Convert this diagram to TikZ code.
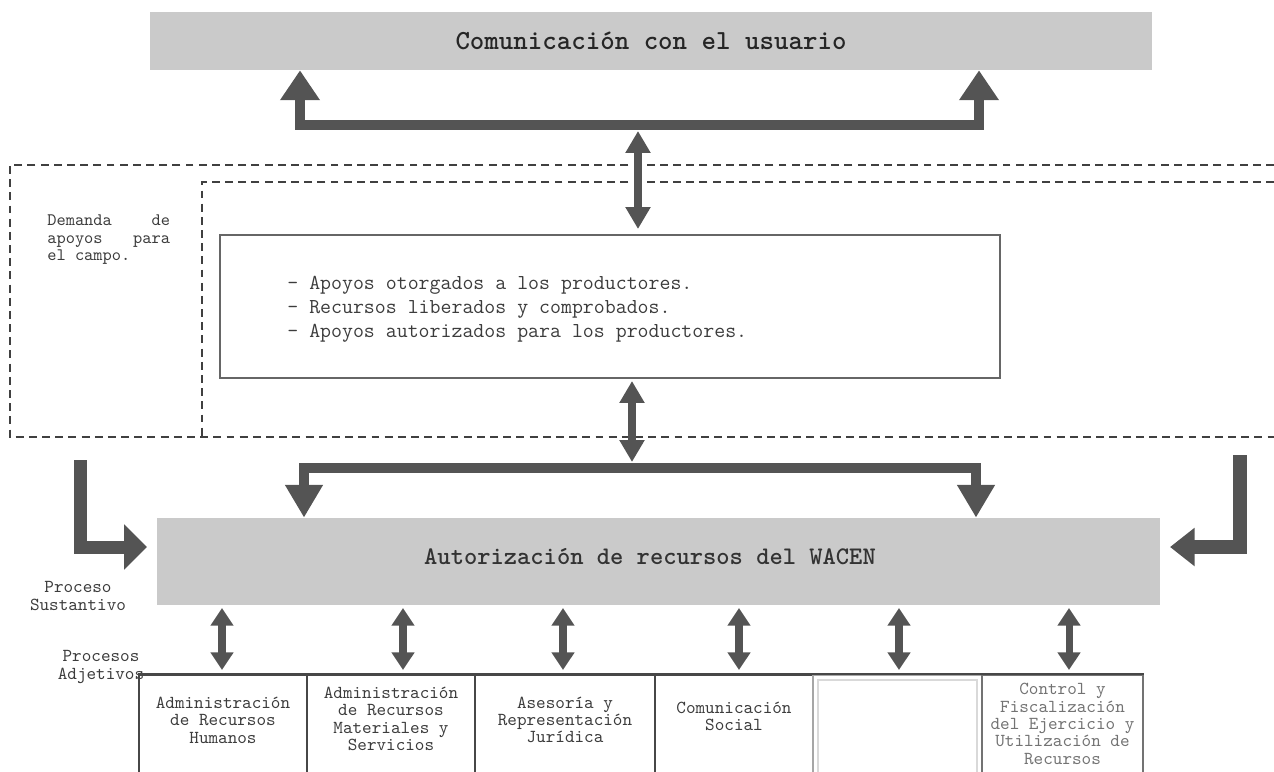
\documentclass[tikz,border=0pt]{standalone}
\usepackage{fontspec}
\usetikzlibrary{arrows.meta}
\definecolor{arrowgray}{HTML}{545454}
\definecolor{bargray}{HTML}{CACACA}
\definecolor{txtgray}{HTML}{3C3C3C}
\begin{document}
\begin{tikzpicture}[x=0.02cm,y=-0.02cm,font=\ttfamily,
  arr/.style={draw=arrowgray,line join=miter},
  bar/.style={fill=bargray,draw=none,inner sep=0pt,text=black!85},
  dashframe/.style={draw=black!75,line width=1.1pt,dash pattern=on 4.5pt off 3pt},
  pbox/.style={draw=black!72,line width=0.9pt,minimum height=2.3cm,inner sep=0pt},
  boxtext/.style={align=center,text=txtgray,font=\ttfamily\fontsize{10.4pt}{9.9pt}\selectfont,inner sep=0pt},
  smalltext/.style={align=center,text=txtgray,font=\ttfamily\fontsize{10.4pt}{10.2pt}\selectfont,inner sep=0pt},
  dbl/.style={arr,line width=4pt,{Triangle[width=12.5pt,length=10pt]}-{Triangle[width=12.5pt,length=10pt]}},
  middbl/.style={arr,line width=4.5pt,{Triangle[width=13.6pt,length=12.5pt]}-{Triangle[width=13.6pt,length=12.5pt]}}
]
\useasboundingbox (0,0) rectangle (1274,771);

% top bar
\node[bar,minimum width=20.04cm,minimum height=1.16cm,
  font=\ttfamily\bfseries\fontsize{15.7pt}{18pt}\selectfont] (top) at (651,41) {Comunicación con el usuario};

% dashed frames
\draw[dashframe] (1274,165) -- (10,165) -- (10,437) -- (1274,437);
\draw[dashframe] (1274,182) -- (202,182) -- (202,437);

% left text
\node[anchor=north west,inner sep=0pt,text=txtgray,font=\ttfamily\fontsize{10pt}{10.2pt}\selectfont] (dem) at (47,214)
  {\parbox{69.8pt}{\hbox to 69.8pt{Demanda\hfill de}\hbox to 69.8pt{apoyos\hfill para}\hbox{el campo.}}};

% middle box
\node[draw=black!60,line width=1pt,minimum width=15.6cm,minimum height=2.86cm,inner sep=0pt] (mid) at (610,306.5) {};
\node[anchor=west,align=left,inner sep=0pt,text=txtgray,font=\ttfamily\fontsize{12.1pt}{13.6pt}\selectfont] (list) at (287,309)
  {–~Apoyos otorgados a los productores.\\–~Recursos liberados y comprobados.\\–~Apoyos autorizados para los productores.};

% authorization bar
\node[bar,minimum width=20.06cm,minimum height=1.74cm] (auth) at (658.5,561.5) {};
\node[inner sep=0pt,text=black!80,font=\ttfamily\bfseries\fontsize{14.4pt}{17pt}\selectfont] (authtext) at (650,557) {Autorización de recursos del WACEN};

% labels
\node[smalltext] (sust) at (78,596) {Proceso\\Sustantivo};
\node[smalltext] (adj) at (101,667) {Procesos\\Adjetivos};

% bottom boxes
\node[pbox,minimum width=3.36cm] (b1) at (223,732.5) {};
\node[pbox,minimum width=3.36cm] (b2) at (391,732.5) {};
\node[pbox,minimum width=3.6cm] (b3) at (565,732.5) {};
\node[pbox,minimum width=3.16cm] (b4) at (734,732.5) {};
\node[pbox,draw=black!35,minimum width=3.38cm] (b5) at (897.5,732.5) {};
\node[pbox,draw=black!55,minimum width=3.22cm] (b6) at (1062.5,732.5) {};
\draw[black!72,line width=1.3pt] (b1.north west) -- (b6.north east);
\draw[black!15,line width=1pt] (818,680) rectangle (977,775);

\node[boxtext] (t1) at (223,720) {Administración\\de Recursos\\Humanos};
\node[boxtext] (t2) at (391,719) {Administración\\de Recursos\\Materiales y\\Servicios};
\node[boxtext] (t3) at (565,720) {Asesoría y\\Representación\\Jurídica};
\node[boxtext] (t4) at (734,716.5) {Comunicación\\Social};
\node[boxtext,text=black!55] (t6) at (1062.5,724) {Control y\\Fiscalización\\del Ejercicio y\\Utilización de\\Recursos};

% coordinates
\coordinate (tbl) at (300,125);
\coordinate (tbr) at (979,125);
\coordinate (m1a) at (638,131);
\coordinate (m1b) at (638,229);
\coordinate (m2a) at (632,381);
\coordinate (m2b) at (632,462);
\coordinate (lbl) at (304,468);
\coordinate (lbr) at (976,468);
\coordinate (la0) at (80,460);
\coordinate (la1) at (80,547);
\coordinate (la2) at (147,547);
\coordinate (ra0) at (1240,455);
\coordinate (ra1) at (1240,547);
\coordinate (ra2) at (1170,547);

% top bracket
\draw[arr,line width=5.7pt,{Triangle[width=21.6pt,length=17pt]}-{Triangle[width=21.6pt,length=17pt]}]
  (top.south -| tbl) -- (tbl) -- (tbr) -- (top.south -| tbr);
% middle double arrows
\draw[middbl] (m1a) -- (m1b);
\draw[middbl] (m2a) -- (m2b);
% lower bracket
\draw[arr,line width=5.7pt,{Triangle[width=20.4pt,length=18.7pt]}-{Triangle[width=20.4pt,length=18.7pt]}]
  (auth.north -| lbl) -- (lbl) -- (lbr) -- (auth.north -| lbr);
% L arrows
\draw[arr,line width=7.4pt,-{Triangle[width=25pt,length=13pt]}] (la0) -- (la1) -- (la2);
\draw[arr,line width=8.5pt,-{Triangle[width=21pt,length=14pt]}] (ra0) -- (ra1) -- (ra2);
% bottom double arrows
\foreach \n/\xx in {1/222,2/403,3/563,4/739,5/899,6/1069}{
  \coordinate (ua\n) at (\xx,608);
  \coordinate (ub\n) at (\xx,670);
  \draw[dbl] (ua\n) -- (ub\n);
}
\end{tikzpicture}
\end{document}
